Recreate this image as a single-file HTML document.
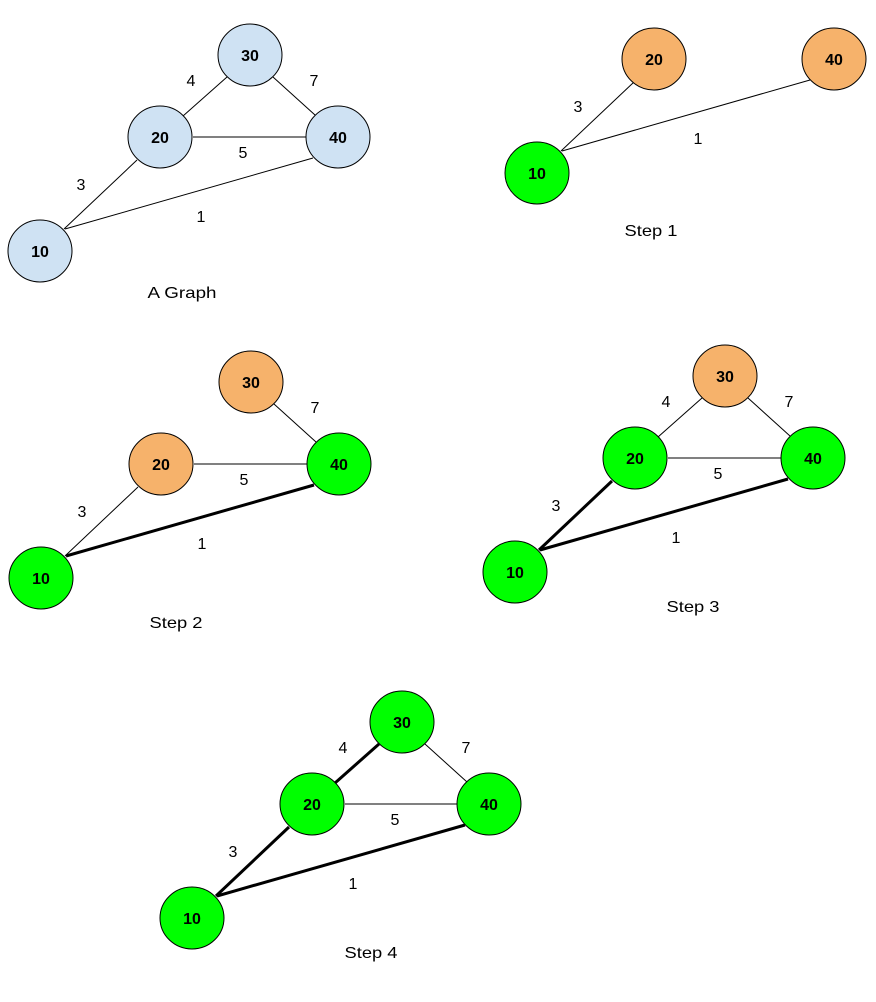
<!DOCTYPE html>
<html><head><meta charset="utf-8"><style>
html,body{margin:0;padding:0;background:#fff;}
svg{display:block}
text{font-family:"Liberation Sans",Arial,sans-serif;fill:#000}
.n{font-weight:bold;font-size:16px;text-anchor:middle}
.l{font-size:16px;text-anchor:middle}
.c{font-size:16px;text-anchor:middle}
line{stroke:#000;stroke-width:1}
line.t{stroke-width:3}
ellipse{stroke:#000;stroke-width:1}
</style></head><body>
<svg width="876" height="1002" viewBox="0 0 876 1002" xmlns="http://www.w3.org/2000/svg">

<!-- A Graph -->
<g>
<line x1="64" y1="229" x2="137" y2="160"/>
<line x1="65" y1="229" x2="313" y2="158"/>
<line x1="183" y1="116" x2="227" y2="77"/>
<line x1="273" y1="77" x2="315" y2="115"/>
<line x1="193" y1="137" x2="306" y2="137"/>
<ellipse cx="40" cy="251" rx="32" ry="31" fill="#cfe2f3"/>
<ellipse cx="160" cy="137" rx="32" ry="31" fill="#cfe2f3"/>
<ellipse cx="250" cy="55" rx="32" ry="31" fill="#cfe2f3"/>
<ellipse cx="338" cy="137" rx="32" ry="31" fill="#cfe2f3"/>
<text class="n" x="40" y="257">10</text>
<text class="n" x="160" y="143">20</text>
<text class="n" x="250" y="61">30</text>
<text class="n" x="338" y="143">40</text>
<text class="l" x="191" y="86">4</text>
<text class="l" x="314" y="86">7</text>
<text class="l" x="243" y="158">5</text>
<text class="l" x="81" y="190">3</text>
<text class="l" x="201" y="222">1</text>
<text class="c" x="182" y="298" textLength="69" lengthAdjust="spacingAndGlyphs">A Graph</text>
</g>

<!-- Step 1 -->
<g transform="translate(497,-78)">
<line x1="64" y1="229" x2="137" y2="160"/>
<line x1="65" y1="229" x2="313" y2="158"/>
<ellipse cx="40" cy="251" rx="32" ry="31" fill="#00ff00"/>
<ellipse cx="157" cy="137" rx="32" ry="31" fill="#f6b26b"/>
<ellipse cx="337" cy="137" rx="32" ry="31" fill="#f6b26b"/>
<text class="n" x="40" y="257">10</text>
<text class="n" x="157" y="143">20</text>
<text class="n" x="337" y="143">40</text>
<text class="l" x="81" y="190">3</text>
<text class="l" x="201" y="222">1</text>
</g>
<text class="c" x="651" y="236" textLength="53" lengthAdjust="spacingAndGlyphs">Step 1</text>

<!-- Step 2 -->
<g transform="translate(1,327)">
<line x1="64" y1="229" x2="137" y2="160"/>
<line class="t" x1="65" y1="229" x2="313" y2="158"/>
<line x1="273" y1="77" x2="315" y2="115"/>
<line x1="193" y1="137" x2="306" y2="137"/>
<ellipse cx="40" cy="251" rx="32" ry="31" fill="#00ff00"/>
<ellipse cx="160" cy="137" rx="32" ry="31" fill="#f6b26b"/>
<ellipse cx="250" cy="55" rx="32" ry="31" fill="#f6b26b"/>
<ellipse cx="338" cy="137" rx="32" ry="31" fill="#00ff00"/>
<text class="n" x="40" y="257">10</text>
<text class="n" x="160" y="143">20</text>
<text class="n" x="250" y="61">30</text>
<text class="n" x="338" y="143">40</text>
<text class="l" x="314" y="86">7</text>
<text class="l" x="243" y="158">5</text>
<text class="l" x="81" y="190">3</text>
<text class="l" x="201" y="222">1</text>
</g>
<text class="c" x="176" y="628" textLength="53" lengthAdjust="spacingAndGlyphs">Step 2</text>

<!-- Step 3 -->
<g transform="translate(475,321)">
<line class="t" x1="64" y1="229" x2="137" y2="160"/>
<line class="t" x1="65" y1="229" x2="313" y2="158"/>
<line x1="183" y1="116" x2="227" y2="77"/>
<line x1="273" y1="77" x2="315" y2="115"/>
<line x1="193" y1="137" x2="306" y2="137"/>
<ellipse cx="40" cy="251" rx="32" ry="31" fill="#00ff00"/>
<ellipse cx="160" cy="137" rx="32" ry="31" fill="#00ff00"/>
<ellipse cx="250" cy="55" rx="32" ry="31" fill="#f6b26b"/>
<ellipse cx="338" cy="137" rx="32" ry="31" fill="#00ff00"/>
<text class="n" x="40" y="257">10</text>
<text class="n" x="160" y="143">20</text>
<text class="n" x="250" y="61">30</text>
<text class="n" x="338" y="143">40</text>
<text class="l" x="191" y="86">4</text>
<text class="l" x="314" y="86">7</text>
<text class="l" x="243" y="158">5</text>
<text class="l" x="81" y="190">3</text>
<text class="l" x="201" y="222">1</text>
</g>
<text class="c" x="693" y="612" textLength="53" lengthAdjust="spacingAndGlyphs">Step 3</text>

<!-- Step 4 -->
<g transform="translate(152,667)">
<line class="t" x1="64" y1="229" x2="137" y2="160"/>
<line class="t" x1="65" y1="229" x2="313" y2="158"/>
<line class="t" x1="183" y1="116" x2="227" y2="77"/>
<line x1="273" y1="77" x2="315" y2="115"/>
<line x1="193" y1="137" x2="306" y2="137"/>
<ellipse cx="40" cy="251" rx="32" ry="31" fill="#00ff00"/>
<ellipse cx="160" cy="137" rx="32" ry="31" fill="#00ff00"/>
<ellipse cx="250" cy="55" rx="32" ry="31" fill="#00ff00"/>
<ellipse cx="337" cy="137" rx="32" ry="31" fill="#00ff00"/>
<text class="n" x="40" y="257">10</text>
<text class="n" x="160" y="143">20</text>
<text class="n" x="250" y="61">30</text>
<text class="n" x="337" y="143">40</text>
<text class="l" x="191" y="86">4</text>
<text class="l" x="314" y="86">7</text>
<text class="l" x="243" y="158">5</text>
<text class="l" x="81" y="190">3</text>
<text class="l" x="201" y="222">1</text>
</g>
<text class="c" x="371" y="958" textLength="53" lengthAdjust="spacingAndGlyphs">Step 4</text>
</svg>
</body></html>
